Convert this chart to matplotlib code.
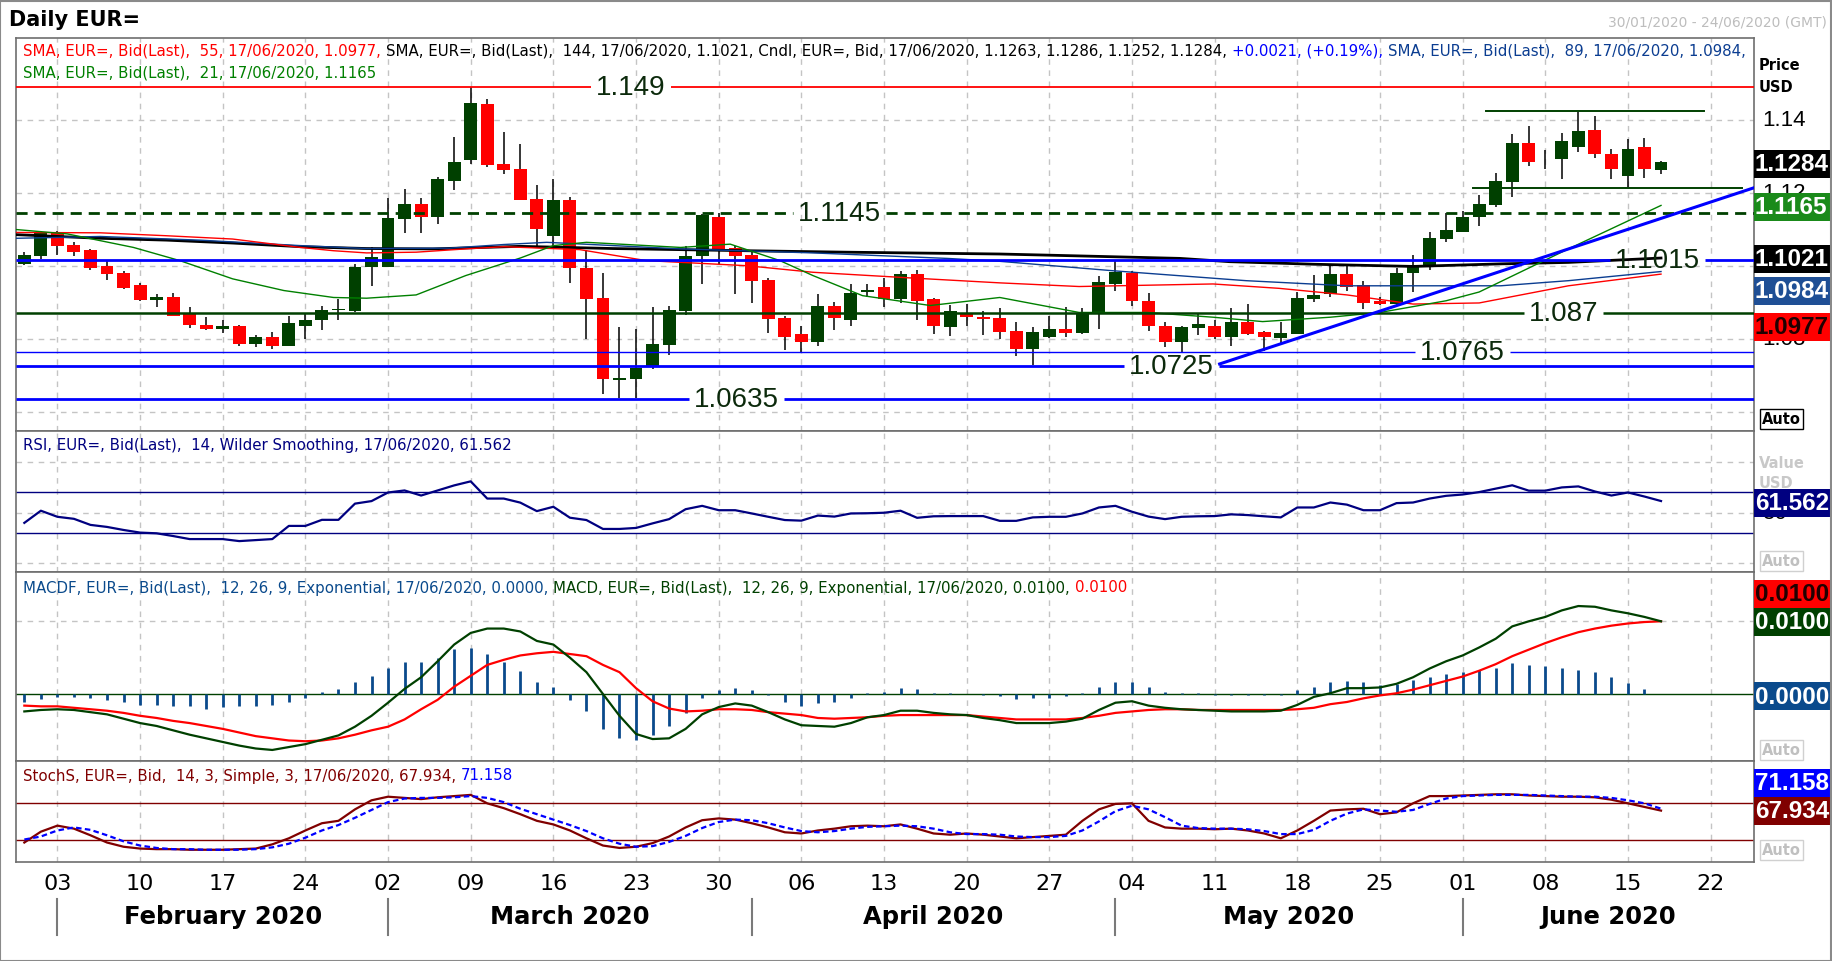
import numpy as np
import matplotlib
matplotlib.use('Agg')
import matplotlib.pyplot as plt
from matplotlib.patches import Rectangle
from matplotlib.transforms import blended_transform_factory

W, H = 1833, 962
plt.rcParams['font.family'] = ['DejaVu Sans']

# ---------------- data ----------------
# daily candles 30/01/2020 .. 17/06/2020, index 0 = 30 Jan
opens = [1.1005, 1.1027, 1.1090, 1.1057, 1.1043, 1.0999, 1.0980, 1.0947, 1.0907, 1.0914,
         1.0868, 1.0838, 1.0828, 1.0835, 1.0787, 1.0805, 1.0781, 1.0836, 1.0850, 1.0879,
         1.0877, 1.0997, 1.0997, 1.1128, 1.1169, 1.1132, 1.1233, 1.1288, 1.1443, 1.1278,
         1.1265, 1.1183, 1.1080, 1.1180, 1.0994, 1.0912, 1.0688, 1.0690, 1.0722, 1.0784,
         1.0877, 1.1027, 1.1132, 1.1048, 1.1029, 1.0962, 1.0857, 1.0813, 1.0790, 1.0890,
         1.0852, 1.0927, 1.0943, 1.0909, 1.0977, 1.0909, 1.0831, 1.0868, 1.0860, 1.0856,
         1.0822, 1.0772, 1.0806, 1.0827, 1.0816, 1.0868, 1.0950, 1.0979, 1.0904, 1.0836,
         1.0792, 1.0829, 1.0835, 1.0804, 1.0845, 1.0818, 1.0801, 1.0813, 1.0909, 1.0922,
         1.0977, 1.0946, 1.0902, 1.0895, 1.0980, 1.0996, 1.1073, 1.1093, 1.1132, 1.1167,
         1.1230, 1.1336, 1.1288, 1.1292, 1.1325, 1.1371, 1.1306, 1.1245, 1.1326, 1.1263]
highs = [1.1037, 1.1094, 1.1094, 1.1064, 1.1046, 1.1014, 1.0986, 1.0954, 1.0922, 1.0925,
         1.0887, 1.0860, 1.0850, 1.0838, 1.0810, 1.0819, 1.0863, 1.0868, 1.0889, 1.0909,
         1.1005, 1.1050, 1.1185, 1.1210, 1.1185, 1.1242, 1.1351, 1.1488, 1.1456, 1.1367,
         1.1333, 1.1221, 1.1236, 1.1188, 1.1044, 1.0980, 1.0831, 1.0826, 1.0886, 1.0891,
         1.1055, 1.1142, 1.1143, 1.1055, 1.1037, 1.0965, 1.0861, 1.0836, 1.0923, 1.0900,
         1.0950, 1.0950, 1.0966, 1.0985, 1.0988, 1.0912, 1.0893, 1.0895, 1.0877, 1.0884,
         1.0847, 1.0831, 1.0861, 1.0888, 1.0883, 1.0973, 1.1014, 1.0986, 1.0925, 1.0845,
         1.0836, 1.0868, 1.0850, 1.0883, 1.0895, 1.0822, 1.0847, 1.0927, 1.0975, 1.1002,
         1.1006, 1.0959, 1.0913, 1.0993, 1.1029, 1.1091, 1.1144, 1.1151, 1.1193, 1.1254,
         1.1361, 1.1383, 1.1318, 1.1363, 1.1422, 1.1410, 1.1320, 1.1346, 1.1350, 1.1286]
lows = [1.1003, 1.1018, 1.1030, 1.1027, 1.0989, 1.0962, 1.0936, 1.0904, 1.0888, 1.0861,
        1.0830, 1.0825, 1.0816, 1.0781, 1.0778, 1.0773, 1.0781, 1.0799, 1.0825, 1.0850,
        1.0872, 1.0945, 1.0997, 1.1090, 1.1090, 1.1114, 1.1208, 1.1279, 1.1271, 1.1251,
        1.1180, 1.1050, 1.1046, 1.0952, 1.0798, 1.0650, 1.0638, 1.0638, 1.0717, 1.0756,
        1.0865, 1.0951, 1.1005, 1.0923, 1.0899, 1.0816, 1.0770, 1.0763, 1.0781, 1.0825,
        1.0836, 1.0913, 1.0886, 1.0898, 1.0852, 1.0813, 1.0808, 1.0836, 1.0810, 1.0798,
        1.0752, 1.0728, 1.0802, 1.0806, 1.0813, 1.0827, 1.0932, 1.0890, 1.0820, 1.0778,
        1.0765, 1.0810, 1.0799, 1.0781, 1.0809, 1.0767, 1.0786, 1.0813, 1.0900, 1.0914,
        1.0932, 1.0882, 1.0892, 1.0892, 1.0929, 1.0987, 1.1066, 1.1091, 1.1109, 1.1160,
        1.1189, 1.1274, 1.1265, 1.1236, 1.1312, 1.1294, 1.1238, 1.1215, 1.1240, 1.1252]
closes = [1.1029, 1.1091, 1.1055, 1.1038, 1.0995, 1.0977, 1.0939, 1.0906, 1.0914, 1.0861,
          1.0839, 1.0827, 1.0835, 1.0787, 1.0805, 1.0781, 1.0843, 1.0851, 1.0879, 1.0880,
          1.0996, 1.1023, 1.1131, 1.1169, 1.1132, 1.1237, 1.1284, 1.1445, 1.1277, 1.1263,
          1.1181, 1.1100, 1.1180, 1.0994, 1.0909, 1.0690, 1.0692, 1.0719, 1.0786, 1.0879,
          1.1026, 1.1140, 1.1046, 1.1027, 1.0959, 1.0854, 1.0806, 1.0790, 1.0890, 1.0856,
          1.0925, 1.0934, 1.0909, 1.0977, 1.0904, 1.0834, 1.0875, 1.0860, 1.0854, 1.0818,
          1.0772, 1.0819, 1.0827, 1.0816, 1.0868, 1.0956, 1.0984, 1.0904, 1.0836, 1.0792,
          1.0831, 1.0840, 1.0804, 1.0845, 1.0813, 1.0804, 1.0815, 1.0911, 1.0920, 1.0977,
          1.0943, 1.0898, 1.0895, 1.0980, 1.1002, 1.1076, 1.1098, 1.1132, 1.1169, 1.1233,
          1.1336, 1.1283, 1.1290, 1.1340, 1.1368, 1.1306, 1.1264, 1.1320, 1.1264, 1.1284]

# moving averages, sampled (index, value)
sma21_x = [-0.5, 2.6, 6.6, 9.4, 12.6, 15.7, 18.7, 20.7, 23.7, 26.7, 30, 32, 34, 39.7, 42.7, 45.7,
           47.7, 50.7, 54.8, 59, 63.8, 67.9, 71.9, 74.9, 79, 82, 86, 88, 93.4, 99]
sma21_y = [1.1099, 1.1087, 1.1050, 1.1014, 1.0964, 1.0932, 1.0913, 1.0911, 1.0920, 1.0973, 1.1021,
           1.1055, 1.1064, 1.1050, 1.1059, 1.1014, 1.0973, 1.0918, 1.0891, 1.0913, 1.0872, 1.0872,
           1.0859, 1.0847, 1.0859, 1.0872, 1.0904, 1.0928, 1.1046, 1.1165]
sma55_x = [-0.5, 4.6, 8.6, 12.6, 16.7, 18.7, 20.7, 23.7, 26.7, 29, 33.6, 37.6, 43.7, 47.7, 53.8,
           59, 63.8, 71.9, 75.9, 80, 84, 88, 93.4, 99]
sma55_y = [1.1091, 1.1090, 1.1082, 1.1073, 1.1050, 1.1041, 1.1035, 1.1037, 1.1046, 1.1052, 1.1044,
           1.1014, 1.1000, 1.0982, 1.0966, 1.0953, 1.0943, 1.0950, 1.0938, 1.0920, 1.0895, 1.0898,
           1.0945, 1.0977]
sma89_x = [-0.5, 4.6, 10.6, 16.7, 20.7, 25.7, 29, 31.6, 39.7, 47.7, 55.8, 59, 65.9, 73.9, 80,
           89.3, 93.4, 99]
sma89_y = [1.1075, 1.1080, 1.1070, 1.1055, 1.1047, 1.1048, 1.1058, 1.1064, 1.1046, 1.1035, 1.1020,
           1.1012, 1.0986, 1.0959, 1.0945, 1.0945, 1.0959, 1.0984]
sma144_x = [-0.5, 4.6, 8.6, 12.6, 16.7, 20.7, 24.7, 30, 35.6, 43.7, 49.7, 59, 61.8, 69.9, 72.9,
            78, 84, 89.3, 93.4, 99]
sma144_y = [1.1085, 1.1075, 1.1070, 1.1062, 1.1052, 1.1047, 1.1046, 1.1053, 1.1047, 1.1041, 1.1037,
            1.1032, 1.1029, 1.1020, 1.1011, 1.1004, 1.0998, 1.1005, 1.1009, 1.1021]

# drawn levels
levels = [1.149, 1.1145, 1.1015, 1.087, 1.0765, 1.0725, 1.0635]
level_labels = ['1.149', '1.1145', '1.1015', '1.087', '1.0765', '1.0725', '1.0635']
level_label_x = [36.7, 49.3, 98.8, 93.1, 87.0, 69.4, 43.1]
trend_x = [72.3, 104.6]
trend_y = [1.0731, 1.1213]
resist_x = [88.4, 101.6]
resist_y = [1.1423, 1.1423]
support_x = [87.6, 103.9]
support_y = [1.1213, 1.1213]

rsi = [40, 52, 46, 44, 38, 36, 33, 30.4, 29.7, 27, 24, 24, 24, 22, 23, 24, 37, 37, 43, 43,
       59, 61.5, 70, 72, 67, 72, 77, 81, 64, 64, 60, 51.6, 55.9, 45.1, 42.8, 34, 34, 35, 39.5, 43.7,
       53.5, 56.8, 52.5, 52.5, 49.3, 46, 42.8, 42.2, 47.2, 46.2, 49.3, 49.5, 50, 52, 45, 46.5, 46.7,
       46.7, 46.7, 42, 42, 45.4, 46, 46, 49.3, 55.2, 56.8, 51, 46.2, 43.7, 46, 46.5, 46.7, 48.4,
       47.7, 46.5, 45.4, 55.2, 55.2, 60.1, 58, 52.5, 52.5, 59.5, 60.1, 64, 66.7, 68, 70.4, 73.8,
       77.1, 71.8, 71.8, 75, 76, 71, 67, 70, 66, 61.562]

macd = [-0.0024, -0.0022, -0.0021, -0.0022, -0.0025, -0.0028, -0.0034, -0.0040, -0.0044, -0.0050,
        -0.0056, -0.0061, -0.0066, -0.0071, -0.0075, -0.0077, -0.0073, -0.0069, -0.0063, -0.0057,
        -0.0045, -0.0030, -0.0012, 0.0007, 0.0023, 0.0045, 0.0068, 0.0084, 0.0090, 0.0090,
        0.0086, 0.0073, 0.0068, 0.0050, 0.0030, 0.0000, -0.0030, -0.0055, -0.0062, -0.0061,
        -0.0048, -0.0028, -0.0018, -0.0013, -0.0016, -0.0025, -0.0035, -0.0043, -0.0044, -0.0045,
        -0.0040, -0.0032, -0.0029, -0.0023, -0.0023, -0.0026, -0.0028, -0.0029, -0.0033, -0.0036,
        -0.0040, -0.0040, -0.0040, -0.0038, -0.0034, -0.0022, -0.0012, -0.0010, -0.0016, -0.0019,
        -0.0021, -0.0022, -0.0023, -0.0024, -0.0024, -0.0024, -0.0023, -0.0015, -0.0004, 0.0001,
        0.0008, 0.0008, 0.0009, 0.0014, 0.0023, 0.0035, 0.0045, 0.0053, 0.0064, 0.0076,
        0.0093, 0.0100, 0.0106, 0.0115, 0.0121, 0.0120, 0.0115, 0.0111, 0.0106, 0.0100]
signal = [-0.0016, -0.0017, -0.0017, -0.0019, -0.0021, -0.0023, -0.0026, -0.0030, -0.0033, -0.0037,
          -0.0040, -0.0044, -0.0048, -0.0053, -0.0058, -0.0061, -0.0064, -0.0065, -0.0064, -0.0061,
          -0.0056, -0.0050, -0.0045, -0.0035, -0.0021, -0.0008, 0.0010, 0.0025, 0.0040, 0.0047,
          0.0053, 0.0056, 0.0058, 0.0055, 0.0052, 0.0040, 0.0030, 0.0008, -0.0010, -0.0020,
          -0.0024, -0.0023, -0.0021, -0.0021, -0.0022, -0.0025, -0.0027, -0.0029, -0.0033, -0.0034,
          -0.0033, -0.0032, -0.0030, -0.0029, -0.0029, -0.0029, -0.0029, -0.0029, -0.0031, -0.0033,
          -0.0035, -0.0035, -0.0035, -0.0035, -0.0033, -0.0030, -0.0026, -0.0024, -0.0022, -0.0021,
          -0.0021, -0.0022, -0.0022, -0.0022, -0.0022, -0.0022, -0.0022, -0.0021, -0.0019, -0.0014,
          -0.0011, -0.0006, -0.0002, 0.0001, 0.0006, 0.0012, 0.0018, 0.0024, 0.0032, 0.0041,
          0.0052, 0.0061, 0.0070, 0.0078, 0.0085, 0.0090, 0.0094, 0.0097, 0.0099, 0.0100]
macd_hist = [-0.0011, -0.0007, -0.0004, -0.0004, -0.0006, -0.0008, -0.0011, -0.0015, -0.0015, -0.0017,
             -0.0017, -0.0021, -0.0018, -0.0017, -0.0017, -0.0015, -0.0011, -0.0005, 0.0003, 0.0007,
             0.0017, 0.0025, 0.0036, 0.0044, 0.0044, 0.0050, 0.0062, 0.0063, 0.0055, 0.0044,
             0.0032, 0.0016, 0.0009, -0.0008, -0.0024, -0.0048, -0.0060, -0.0063, -0.0057, -0.0044,
             -0.0026, -0.0006, 0.0005, 0.0008, 0.0006, -0.0002, -0.0011, -0.0017, -0.0012, -0.0011,
             -0.0005, 0.0001, 0.0003, 0.0008, 0.0007, 0.0001, 0.0001, 0.0000, -0.0001, -0.0003,
             -0.0007, -0.0006, -0.0005, -0.0003, 0.0001, 0.0010, 0.0017, 0.0016, 0.0009, 0.0003,
             0.0001, 0.0001, -0.0001, -0.0001, -0.0001, -0.0001, -0.0001, 0.0006, 0.0010, 0.0017,
             0.0018, 0.0016, 0.0012, 0.0014, 0.0019, 0.0024, 0.0027, 0.0030, 0.0033, 0.0036,
             0.0043, 0.0040, 0.0038, 0.0036, 0.0033, 0.0030, 0.0023, 0.0015, 0.0007, 0.0000]

stoch_k = [15, 33, 43, 38, 27, 15, 8, 5, 4, 4, 3, 3, 3, 4, 5, 12, 22, 35, 47, 51,
           70, 85, 91, 89, 87, 90, 92, 94, 80, 72, 62, 51, 45, 35, 22, 10, 6, 8, 14, 25,
           40, 52, 55, 53, 47, 40, 32, 30, 35, 38, 42, 43, 42, 45, 38, 30, 28, 30, 28, 25,
           22, 24, 26, 28, 51, 70, 79, 80, 51, 40, 38, 38, 37, 38, 35, 30, 22, 35, 51, 68,
           70, 71, 62, 65, 80, 92, 92, 93, 94, 95, 95, 93, 92, 91, 91, 90, 86, 80, 74, 67.934]
stoch_d = [20, 25, 35, 40, 36, 27, 17, 10, 6, 4, 4, 3, 3, 3, 4, 7, 13, 23, 35, 44,
           56, 69, 82, 88, 89, 89, 90, 92, 89, 82, 71, 62, 53, 44, 34, 22, 13, 8, 9, 16,
           26, 39, 49, 53, 52, 47, 40, 34, 32, 34, 38, 41, 42, 43, 42, 38, 32, 29, 29, 28,
           25, 24, 24, 26, 35, 50, 67, 76, 70, 57, 43, 39, 38, 38, 37, 34, 29, 29, 36, 51,
           63, 70, 68, 66, 69, 79, 88, 92, 93, 94, 94, 94, 93, 92, 91, 91, 89, 85, 80, 71.158]

day_labels = ['03', '10', '17', '24', '02', '09', '16', '23', '30', '06', '13', '20', '27',
              '04', '11', '18', '25', '01', '08', '15', '22']
month_labels = ['February 2020', 'March 2020', 'April 2020', 'May 2020', 'June 2020']
month_start = [2, 22, 44, 66, 87]

# ---------------- layout helpers ----------------
def fbox(x0, y0, x1, y1):
    return [x0 / W, 1 - y1 / H, (x1 - x0) / W, (y1 - y0) / H]

def fy(y):
    return 1 - y / H

X0, X1 = 16.4, 1753.6
XLIM = (-0.48, 104.6)
grid_col = '#c4c4c4'
spine_col = '#6e6e6e'
mondays = np.arange(2, 104, 5)

fig = plt.figure(figsize=(W / 100, H / 100), dpi=100)
renderer = fig.canvas.get_renderer()

ax = fig.add_axes(fbox(X0, 38.5, X1, 431.7))
ax_rsi = fig.add_axes(fbox(X0, 431.7, X1, 573.3), sharex=ax)
ax_macd = fig.add_axes(fbox(X0, 573.3, X1, 762.3), sharex=ax)
ax_st = fig.add_axes(fbox(X0, 762.3, X1, 862.7), sharex=ax)

for a in (ax, ax_rsi, ax_macd, ax_st):
    a.set_xlim(*XLIM)
    a.set_xticks(mondays)
    a.tick_params(length=0, labelbottom=False, labelleft=False)
    a.grid(True, axis='both', color=grid_col, lw=1, ls=(0, (4, 4)))
    a.set_axisbelow(True)
    for s in a.spines.values():
        s.set_color(spine_col)
        s.set_linewidth(1.2)

# ---------------- main price panel ----------------
ax.set_ylim(1.05483, 1.16247)
ax.set_yticks([1.06, 1.08, 1.10, 1.12, 1.14])
x = np.arange(len(opens))
o = np.array(opens); c = np.array(closes)
up = c >= o
body_h = np.maximum(np.abs(c - o), 0.00018)
ax.vlines(x, lows, highs, color='black', lw=1.1, zorder=2)
ax.bar(x[up], body_h[up], bottom=np.minimum(o, c)[up], width=0.78, color='#004000', zorder=3)
ax.bar(x[~up], body_h[~up], bottom=np.minimum(o, c)[~up], width=0.78, color='#ff0000', zorder=3)

ax.plot(sma144_x, sma144_y, color='black', lw=2.0, zorder=4)
ax.plot(sma89_x, sma89_y, color='#0b3d91', lw=1.0, zorder=4)
ax.plot(sma55_x, sma55_y, color='#ff0000', lw=1.0, zorder=4)
ax.plot(sma21_x, sma21_y, color='#008000', lw=1.0, zorder=4)

lv_style = {1.149: ('#ff0000', 1.3, '-'), 1.1145: ('#004000', 2.0, (0, (4, 2.5))),
            1.1015: ('#0000ff', 2.0, '-'), 1.087: ('#004000', 1.8, '-'),
            1.0765: ('#0000ff', 1.0, '-'), 1.0725: ('#0000ff', 2.0, '-'),
            1.0635: ('#0000ff', 2.0, '-')}
# level lines are broken where their label sits
inv = ax.transData.inverted()
for lv, lab, lx in zip(levels, level_labels, level_label_x):
    col, lw, ls = lv_style[lv]
    t = ax.text(lx, lv, lab, fontsize=20, family='Liberation Sans', color='#0c2a0c',
                ha='center', va='center', zorder=7)
    bb = t.get_window_extent(renderer=renderer)
    xl = inv.transform((bb.x0 - 5, 0))[0]
    xr = inv.transform((bb.x1 + 5, 0))[0]
    ax.hlines(lv, XLIM[0], xl, color=col, lw=lw, linestyles=[ls], zorder=5)
    ax.hlines(lv, xr, XLIM[1], color=col, lw=lw, linestyles=[ls], zorder=5)
ax.plot(trend_x, trend_y, color='#0000ff', lw=2.2, zorder=5, clip_on=True)
ax.plot(resist_x, resist_y, color='#004000', lw=1.4, zorder=5)
ax.plot(support_x, support_y, color='#004000', lw=1.4, zorder=5)

# ---------------- RSI ----------------
ax_rsi.set_ylim(-8.8, 131)
ax_rsi.set_yticks([0, 50, 100])
ax_rsi.axhline(70, color='#000080', lw=1)
ax_rsi.axhline(30, color='#000080', lw=1)
ax_rsi.plot(x, rsi, color='#000080', lw=1.6)

# ---------------- MACD ----------------
ax_macd.set_ylim(-0.00926, 0.01674)
ax_macd.set_yticks([0.01])
ax_macd.axhline(0, color='#004000', lw=1)
ax_macd.vlines(x, 0, macd_hist, color='#0a4a8c', lw=2.0)
ax_macd.plot(x, signal, color='#ff0000', lw=1.6)
ax_macd.plot(x, macd, color='#004000', lw=1.6)

# ---------------- Stochastic ----------------
ax_st.set_ylim(-16.8, 149.7)
ax_st.set_yticks([])
ax_st.axhline(80, color='#800000', lw=1)
ax_st.axhline(20, color='#800000', lw=1)
ax_st.plot(x, stoch_k, color='#800000', lw=1.6)
ax_st.plot(x, stoch_d, color='#0000ff', lw=1.6, ls=(0, (2.5, 1.5)))

# ---------------- x axis labels ----------------
tb = blended_transform_factory(ax_st.transData, fig.transFigure)
for m, lab in zip(mondays, day_labels):
    ax_st.text(m, fy(884), lab, transform=tb, fontsize=16, ha='center', va='center')
bounds = month_start + [XLIM[1]]
for k, lab in enumerate(month_labels):
    ax_st.text((bounds[k] + bounds[k + 1]) / 2, fy(917), lab, transform=tb, fontsize=17.5,
               fontweight='bold', ha='center', va='center')
for m in month_start:
    ax_st.plot([m, m], [fy(900), fy(936)], transform=tb, color='#7a7a7a', lw=1.5, clip_on=False)

# ---------------- legend texts ----------------
def colored_line(x_px, y_px, parts, size):
    xx = x_px / W
    for txt, col in parts:
        t = fig.text(xx, fy(y_px), txt, color=col, fontsize=size, ha='left', va='center', zorder=8)
        bb = t.get_window_extent(renderer=renderer)
        xx += (bb.width + size * 0.45) / W

LEG = 10.8
colored_line(23, 51.5, [('SMA, EUR=, Bid(Last),  55, 17/06/2020, 1.0977,', '#ff0000'),
                        ('SMA, EUR=, Bid(Last),  144, 17/06/2020, 1.1021, Cndl, EUR=, Bid, 17/06/2020, 1.1263, 1.1286, 1.1252, 1.1284,', 'black'),
                        ('+0.0021, (+0.19%),', '#0000ff'),
                        ('SMA, EUR=, Bid(Last),  89, 17/06/2020, 1.0984,', '#0b3d91')], LEG)
colored_line(23, 73, [('SMA, EUR=, Bid(Last),  21, 17/06/2020, 1.1165', '#008000')], LEG)
colored_line(23, 445.5, [('RSI, EUR=, Bid(Last),  14, Wilder Smoothing, 17/06/2020, 61.562', '#000080')], LEG)
colored_line(23, 588, [('MACDF, EUR=, Bid(Last),  12, 26, 9, Exponential, 17/06/2020, 0.0000,', '#0a4a8c'),
                       ('MACD, EUR=, Bid(Last),  12, 26, 9, Exponential, 17/06/2020, 0.0100,', '#004000'),
                       ('0.0100', '#ff0000')], LEG)
colored_line(23, 776, [('StochS, EUR=, Bid,  14, 3, Simple, 3, 17/06/2020, 67.934,', '#800000'),
                       ('71.158', '#0000ff')], LEG)

fig.text(9 / W, fy(20), 'Daily EUR=', fontsize=15, fontweight='bold', ha='left', va='center')
fig.text(1827 / W, fy(23), '30/01/2020 - 24/06/2020 (GMT)', fontsize=10, color='#bdbdbd',
         ha='right', va='center')

# ---------------- right hand scale ----------------
fig.text(1759 / W, fy(66), 'Price', fontsize=10.5, fontweight='bold', ha='left', va='center')
fig.text(1759 / W, fy(88), 'USD', fontsize=10.5, fontweight='bold', ha='left', va='center')
for t in [1.14, 1.12, 1.10, 1.08]:
    yp = ax.transData.transform((0, t))[1]
    fig.text(1762 / W, yp / H, '%.2f' % t, fontsize=16, family='Liberation Sans', ha='left', va='center')
fig.text(1759 / W, fy(463), 'Value', fontsize=10.5, fontweight='bold', color='#c8c8c8', ha='left', va='center')
fig.text(1759 / W, fy(484), 'USD', fontsize=10.5, fontweight='bold', color='#c8c8c8', ha='left', va='center')
yp = ax_rsi.transData.transform((0, 50))[1]
fig.text(1762 / W, yp / H, '50', fontsize=16, family='Liberation Sans', ha='left', va='center')

def value_box(yc, text, face, tcol='white', h=28):
    fig.add_artist(Rectangle((X1 / W, fy(yc + h / 2)), (W - X1) / W, h / H,
                             transform=fig.transFigure, fc=face, ec='none', zorder=9))
    fig.text(1755 / W, fy(yc), text, fontsize=17.5, fontweight='bold', family='Liberation Sans',
             color=tcol, ha='left', va='center', zorder=10)

value_box(164.5, '%.4f' % closes[-1], 'black')
value_box(208, '%.4f' % sma21_y[-1], '#1a8a1a')
value_box(259.5, '%.4f' % sma144_y[-1], 'black')
value_box(292, '%.4f' % sma89_y[-1], '#1f4f95')
value_box(328, '%.4f' % sma55_y[-1], '#ff0000', '#200000')
value_box(504, '%.3f' % rsi[-1], '#000080')
value_box(594.5, '%.4f' % signal[-1], '#ff0000', '#200000')
value_box(623, '%.4f' % macd[-1], '#004000')
value_box(697, '%.4f' % macd_hist[-1], '#0a4a8c')
value_box(783.5, '%.3f' % stoch_d[-1], '#0000ff')
value_box(811.5, '%.3f' % stoch_k[-1], '#800000')

def auto_box(yc, col, ec):
    fig.text(1762 / W, fy(yc), 'Auto', fontsize=10.5, fontweight='bold', color=col, ha='left',
             va='center', zorder=10, bbox=dict(boxstyle='square,pad=0.15', fc='white', ec=ec, lw=1))

auto_box(420, 'black', 'black')
auto_box(562, '#c0c0c0', '#d0d0d0')
auto_box(751, '#c0c0c0', '#d0d0d0')
auto_box(851, '#c0c0c0', '#d0d0d0')

fig.add_artist(Rectangle((0.5 / W, 0.5 / H), (W - 2) / W, (H - 2) / H, transform=fig.transFigure,
                         fc='none', ec='#8a8a8a', lw=1.5, zorder=11))

fig.savefig('out.png', dpi=100)
